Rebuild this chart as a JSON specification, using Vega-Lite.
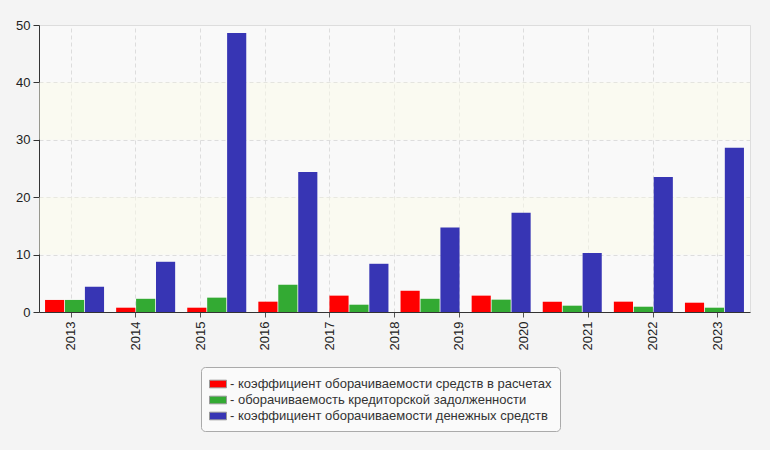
{
  "$schema": "https://vega.github.io/schema/vega-lite/v6.json",
  "width": 711,
  "height": 287,
  "autosize": {"type": "none"},
  "padding": {"left": 39, "top": 25, "right": 20, "bottom": 138},
  "background": "#f4f4f4",
  "config": {
    "view": {"fill": "#f9f9f9", "stroke": "#dddddd"},
    "font": "Liberation Sans"
  },
  "datasets": {
    "bands": [{"lo": 10, "hi": 20}, {"lo": 30, "hi": 40}],
    "years": [
      {"year": "2013"}, {"year": "2014"}, {"year": "2015"}, {"year": "2016"},
      {"year": "2017"}, {"year": "2018"}, {"year": "2019"}, {"year": "2020"},
      {"year": "2021"}, {"year": "2022"}, {"year": "2023"}
    ],
    "ratios": [
      {"year": "2014", "series": "коэффициент оборачиваемости средств в расчетах", "value": 2.1},
      {"year": "2014", "series": "оборачиваемость кредиторской задолженности", "value": 2.1},
      {"year": "2014", "series": "коэффициент оборачиваемости денежных средств", "value": 4.4},
      {"year": "2015", "series": "коэффициент оборачиваемости средств в расчетах", "value": 0.75},
      {"year": "2015", "series": "оборачиваемость кредиторской задолженности", "value": 2.3},
      {"year": "2015", "series": "коэффициент оборачиваемости денежных средств", "value": 8.75},
      {"year": "2016", "series": "коэффициент оборачиваемости средств в расчетах", "value": 0.75},
      {"year": "2016", "series": "оборачиваемость кредиторской задолженности", "value": 2.5},
      {"year": "2016", "series": "коэффициент оборачиваемости денежных средств", "value": 48.6},
      {"year": "2017", "series": "коэффициент оборачиваемости средств в расчетах", "value": 1.8},
      {"year": "2017", "series": "оборачиваемость кредиторской задолженности", "value": 4.75},
      {"year": "2017", "series": "коэффициент оборачиваемости денежных средств", "value": 24.4},
      {"year": "2018", "series": "коэффициент оборачиваемости средств в расчетах", "value": 2.85},
      {"year": "2018", "series": "оборачиваемость кредиторской задолженности", "value": 1.27},
      {"year": "2018", "series": "коэффициент оборачиваемости денежных средств", "value": 8.4},
      {"year": "2019", "series": "коэффициент оборачиваемости средств в расчетах", "value": 3.7},
      {"year": "2019", "series": "оборачиваемость кредиторской задолженности", "value": 2.3},
      {"year": "2019", "series": "коэффициент оборачиваемости денежных средств", "value": 14.7},
      {"year": "2020", "series": "коэффициент оборачиваемости средств в расчетах", "value": 2.85},
      {"year": "2020", "series": "оборачиваемость кредиторской задолженности", "value": 2.15},
      {"year": "2020", "series": "коэффициент оборачиваемости денежных средств", "value": 17.3},
      {"year": "2021", "series": "коэффициент оборачиваемости средств в расчетах", "value": 1.8},
      {"year": "2021", "series": "оборачиваемость кредиторской задолженности", "value": 1.1},
      {"year": "2021", "series": "коэффициент оборачиваемости денежных средств", "value": 10.3},
      {"year": "2022", "series": "коэффициент оборачиваемости средств в расчетах", "value": 1.8},
      {"year": "2022", "series": "оборачиваемость кредиторской задолженности", "value": 0.92},
      {"year": "2022", "series": "коэффициент оборачиваемости денежных средств", "value": 23.5},
      {"year": "2023", "series": "коэффициент оборачиваемости средств в расчетах", "value": 1.62},
      {"year": "2023", "series": "оборачиваемость кредиторской задолженности", "value": 0.75},
      {"year": "2023", "series": "коэффициент оборачиваемости денежных средств", "value": 28.6}
    ]
  },
  "layer": [
    {
      "data": {"name": "bands"},
      "mark": {"type": "rect", "fill": "#fbfbea", "opacity": 0.5},
      "encoding": {
        "y": {
          "field": "lo",
          "type": "quantitative",
          "scale": {"domain": [0, 50], "nice": false},
          "axis": {
            "values": [0, 10, 20, 30, 40, 50],
            "title": null,
            "grid": true,
            "gridDash": [4, 3],
            "gridColor": "#dddddd",
            "domainColor": "#333333",
            "tickColor": "#333333",
            "tickSize": 6,
            "labelFontSize": 13,
            "labelColor": "#222222",
            "labelPadding": 3
          }
        },
        "y2": {"field": "hi"}
      }
    },
    {
      "data": {"name": "years"},
      "mark": {"type": "rule", "opacity": 0},
      "encoding": {
        "x": {
          "field": "year",
          "type": "nominal",
          "scale": {"type": "band", "paddingInner": 0, "paddingOuter": 0},
          "axis": {
            "orient": "bottom",
            "title": null,
            "labelAngle": 270,
            "bandPosition": 0.5,
            "grid": true,
            "gridDash": [4, 3],
            "gridColor": "#dddddd",
            "domainColor": "#333333",
            "tickColor": "#555555",
            "tickSize": 5,
            "labelFontSize": 13,
            "labelColor": "#222222",
            "labelPadding": 4
          }
        }
      }
    },
    {
      "data": {"name": "ratios"},
      "mark": {"type": "bar"},
      "encoding": {
        "x": {
          "field": "year",
          "type": "nominal",
          "scale": {"paddingInner": 0.17, "paddingOuter": 0.085},
          "axis": null
        },
        "xOffset": {
          "field": "series",
          "type": "nominal",
          "scale": {
            "domain": [
              "коэффициент оборачиваемости средств в расчетах",
              "оборачиваемость кредиторской задолженности",
              "коэффициент оборачиваемости денежных средств"
            ],
            "paddingInner": 0.04
          }
        },
        "y": {
          "field": "value",
          "type": "quantitative",
          "scale": {"domain": [0, 50], "nice": false}
        },
        "color": {
          "field": "series",
          "type": "nominal",
          "scale": {
            "domain": [
              "коэффициент оборачиваемости средств в расчетах",
              "оборачиваемость кредиторской задолженности",
              "коэффициент оборачиваемости денежных средств"
            ],
            "range": ["#ff0000", "#33aa33", "#3735b4"]
          },
          "legend": {
            "orient": "none",
            "legendX": 162,
            "legendY": 342,
            "title": null,
            "labelExpr": "'- ' + datum.label",
            "labelFontSize": 13,
            "labelColor": "#333333",
            "labelOffset": 3,
            "labelLimit": 500,
            "symbolType": "M-1,-0.45H1V0.45H-1Z",
            "symbolSize": 289,
            "symbolStrokeColor": "#999999",
            "symbolStrokeWidth": 1,
            "symbolOpacity": 1,
            "rowPadding": 0,
            "padding": 8,
            "strokeColor": "#aaaaaa",
            "fillColor": "#fafafa",
            "cornerRadius": 4
          }
        }
      }
    }
  ],
  "resolve": {"scale": {"x": "independent"}}
}
